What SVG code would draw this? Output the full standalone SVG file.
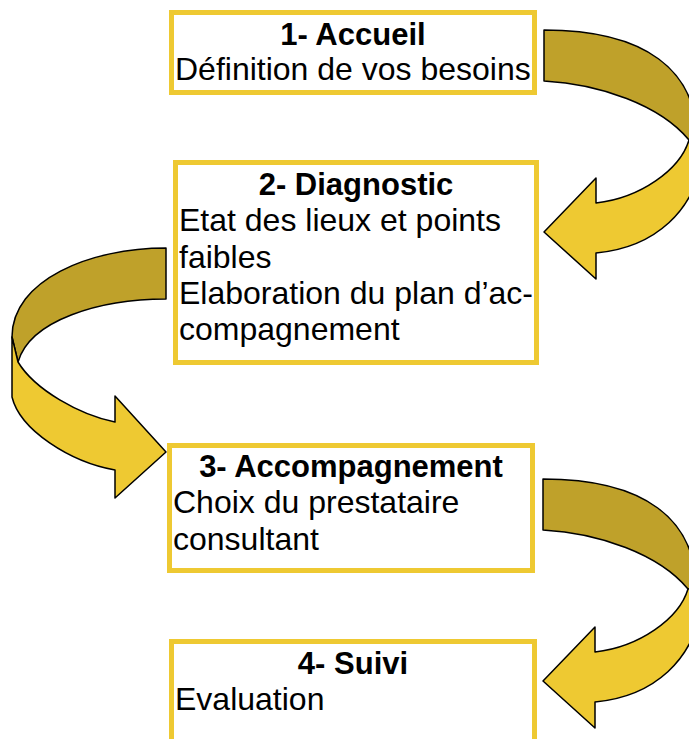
<svg xmlns="http://www.w3.org/2000/svg" xmlns:xlink="http://www.w3.org/1999/xlink" width="689" height="739" viewBox="0 0 689 739">
<style>
.box{fill:#FFFFFF;stroke:#EEC932;stroke-width:5}
.t{font-family:"Liberation Sans",Arial,sans-serif;font-size:31px;font-weight:bold;fill:#000;text-anchor:middle}
.b{font-family:"Liberation Sans",Arial,sans-serif;font-size:32px;fill:#000}
.dark{fill:#BFA12A;stroke:#000;stroke-width:1.5;stroke-linejoin:round}
.light{fill:#EEC932;stroke:#000;stroke-width:1.5;stroke-linejoin:round}
</style>
<defs>
<g id="uturn">
<path class="dark" d="M 544,30 C 645,30 697,70 697,140 L 689,140 C 660,105 600,84 544,81 Z"/>
<path class="light" d="M 596,203 C 640,198 680,170 689,140 L 705,140 C 700,215 650,248 596,253 L 596,279 L 544,232 L 596,178 Z"/>
</g>
</defs>
<rect width="689" height="739" fill="#FFFFFF"/>
<g id="connectors">
<use xlink:href="#uturn"/>
<g id="arrow2">
<path class="dark" d="M 166,248 C 90,248 12,280 12,337 L 18,362 C 30,320 100,299 166,299 Z"/>
<path class="light" d="M 12,337 L 18,362 C 35,390 80,415 115,422 L 115,396 L 166,452 L 115,498 L 115,470 C 70,462 20,430 12,397 Z"/>
</g>
<use xlink:href="#uturn" transform="translate(-1,449)"/>
</g>
<g id="node1">
<rect class="box" x="171.5" y="12.5" width="363" height="80"/>
<text class="t" x="353" y="45">1- Accueil</text>
<text class="b" x="175" y="80">Définition de vos besoins</text>
</g>
<g id="node2">
<rect class="box" x="175.5" y="162.5" width="361" height="200"/>
<text class="t" x="356" y="195">2- Diagnostic</text>
<text class="b" x="179" y="231">Etat des lieux et points</text>
<text class="b" x="179" y="268">faibles</text>
<text class="b" x="179" y="304">Elaboration du plan d’ac-</text>
<text class="b" x="179" y="340">compagnement</text>
</g>
<g id="node3">
<rect class="box" x="169.5" y="445.5" width="363" height="125"/>
<text class="t" x="351" y="477">3- Accompagnement</text>
<text class="b" x="173" y="513">Choix du prestataire</text>
<text class="b" x="173" y="550">consultant</text>
</g>
<g id="node4">
<rect class="box" x="171.5" y="641.5" width="363" height="110"/>
<text class="t" x="353" y="674">4- Suivi</text>
<text class="b" x="175" y="710">Evaluation</text>
</g>
</svg>
